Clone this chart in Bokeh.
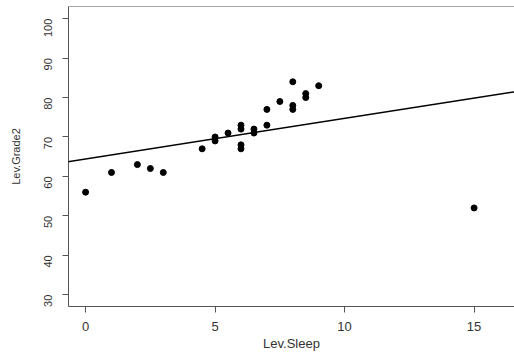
import numpy as np
from bokeh.plotting import figure
from bokeh.models import Range1d, FixedTicker, Slope, Span
from bokeh.embed import file_html
from bokeh.resources import INLINE

# Hours of sleep vs. grade
sleep = [0, 1, 2, 2.5, 3, 4.5, 5, 5, 5.5, 6, 6, 6, 6, 6.5, 6.5,
         7, 7, 7.5, 8, 8, 8, 8.5, 8.5, 9, 15]
grade = [56, 61, 63, 62, 61, 67, 70, 69, 71, 73, 72, 68, 67, 72, 71,
         77, 73, 79, 84, 78, 77, 81, 80, 83, 52]

x_ticks = [0, 5, 10, 15]
y_ticks = [30, 40, 50, 60, 70, 80, 90, 100]

# least-squares line through the points
gradient, intercept = np.polyfit(sleep, grade, 1)

FONT = "Liberation Sans"
TEXT = "#333333"
FRAME = "#555555"

p = figure(width=514, height=355, output_backend="svg", toolbar_location=None,
           x_range=Range1d(-0.66, 16.56), y_range=Range1d(27.0, 103.1),
           min_border_left=68, min_border_right=0, min_border_top=6,
           min_border_bottom=49, background_fill_color="white",
           border_fill_color="white")
p.outline_line_color = None
p.grid.visible = False

for ax, ticks in ((p.xaxis[0], x_ticks), (p.yaxis[0], y_ticks)):
    ax.ticker = FixedTicker(ticks=ticks)
    ax.minor_tick_line_color = None
    ax.major_tick_in = 0
    ax.major_tick_out = 6
    ax.major_tick_line_color = FRAME
    ax.axis_line_color = FRAME
    ax.axis_line_width = 1
    ax.major_label_text_font = FONT
    ax.major_label_text_color = TEXT
    ax.axis_label_text_font = FONT
    ax.axis_label_text_font_style = "normal"
    ax.axis_label_text_color = TEXT

p.xaxis.axis_label = "Lev.Sleep"
p.xaxis.major_label_text_font_size = "13px"
p.xaxis.axis_label_text_font_size = "13px"
p.xaxis.major_label_standoff = 9
p.xaxis.axis_label_standoff = 2

p.yaxis.axis_label = "Lev.Grade2"
p.yaxis.major_label_text_font_size = "11px"
p.yaxis.axis_label_text_font_size = "11px"
p.yaxis.major_label_orientation = np.pi / 2
p.yaxis.major_label_standoff = 14
p.yaxis.axis_label_standoff = 16

# top edge of the box
p.add_layout(Span(location=103.1, dimension="width", line_color=FRAME, line_width=1))

p.scatter(sleep, grade, size=6, color="black")
p.add_layout(Slope(gradient=gradient, y_intercept=intercept,
                   line_color="black", line_width=1.5))

open("out.html", "w").write(file_html(p, INLINE))
